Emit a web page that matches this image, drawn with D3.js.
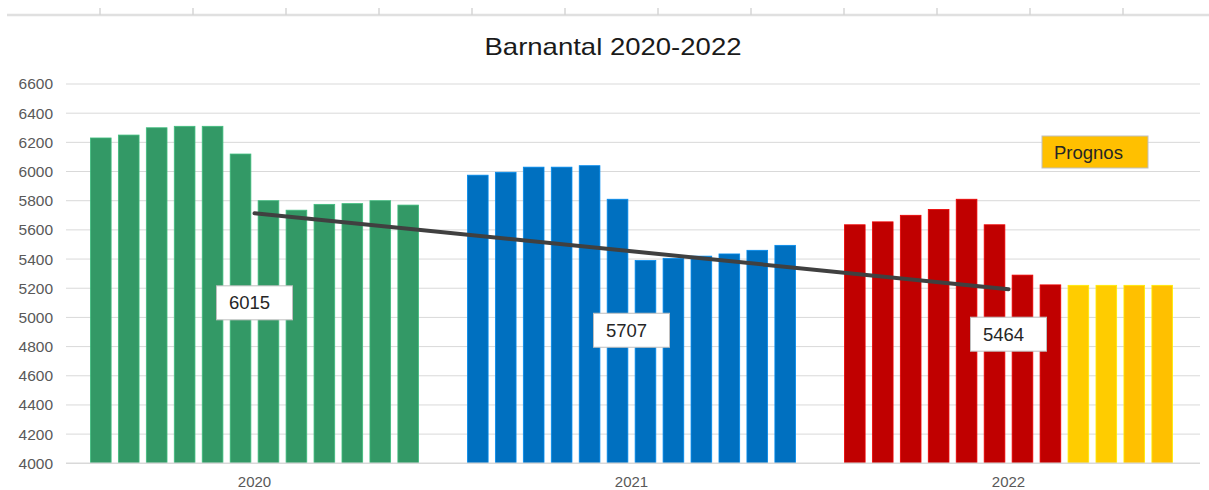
<!DOCTYPE html>
<html>
<head>
<meta charset="utf-8">
<script src="https://cdn.jsdelivr.net/npm/d3@7"></script>
<style>
  html, body { margin: 0; padding: 0; background: #fff; }
  svg { display: block; font-family: "Liberation Sans", Arial, sans-serif; }
</style>
</head>
<body>
<svg id="chart" width="1209" height="490"></svg>
<script>
// Monthly number of children per year (Jan–Dec)
const years = ["2020", "2021", "2022"];
const months = ["jan", "feb", "mar", "apr", "maj", "jun", "jul", "aug", "sep", "okt", "nov", "dec"];
const values2020 = [6230, 6250, 6300, 6310, 6310, 6120, 5800, 5735, 5775, 5780, 5800, 5770];
const values2021 = [5975, 5995, 6030, 6030, 6040, 5810, 5390, 5405, 5420, 5435, 5460, 5494];
const values2022 = [5635, 5655, 5700, 5740, 5810, 5635, 5290, 5223, 5220, 5220, 5220, 5220];
// Months of 2022 that are forecasts (Prognos)
const forecast2022 = [false, false, false, false, false, false, false, false, true, true, true, true];
// Trend line: value at the middle of the first and last year
const trendYears = ["2020", "2022"];
const trendValues = [5714, 5193];
const yTicks = [4000, 4200, 4400, 4600, 4800, 5000, 5200, 5400, 5600, 5800, 6000, 6200, 6400, 6600];

const series = [values2020, values2021, values2022];
const yearColors = ["#339966", "#0070C0", "#C00000"];
const forecastColors = ["#FFCC00", "#FFCC00", "#FFC000", "#FFC000"];

const svg = d3.select("#chart");

// Faint axis strip along the top edge
const topScale = d3.scaleLinear().domain([0, 13]).range([7, 1216]);
const topG = svg.append("g");
topG.append("line")
  .attr("x1", 7).attr("x2", 1209).attr("y1", 15).attr("y2", 15)
  .attr("stroke", "#e0e0e0").attr("stroke-width", 2.5);
topG.selectAll("line.tk").data(d3.range(1, 13)).join("line")
  .attr("class", "tk")
  .attr("x1", d => topScale(d)).attr("x2", d => topScale(d))
  .attr("y1", 8).attr("y2", 15)
  .attr("stroke", "#d6d6d6").attr("stroke-width", 1.5);

// Scales
const plotLeft = 66, plotRight = 1200;
const y = d3.scaleLinear().domain([4000, 6600]).range([463.3, 84]);
const xYear = d3.scaleBand().domain(years).range([66, 1197]).padding(0);
const xMonth = d3.scaleBand().domain(months).range([0, xYear.bandwidth()])
  .paddingInner(0.26).paddingOuter(0.874);

// Gridlines
svg.append("g").selectAll("line").data(yTicks.slice(1)).join("line")
  .attr("x1", plotLeft).attr("x2", plotRight)
  .attr("y1", d => y(d)).attr("y2", d => y(d))
  .attr("stroke", "#d9d9d9").attr("stroke-width", 1);

// Y axis labels
const yAxis = d3.axisLeft(y).tickValues(yTicks).tickSize(0).tickPadding(0).tickFormat(d3.format("d"));
const yG = svg.append("g").attr("transform", "translate(53,0)").call(yAxis);
yG.select(".domain").remove();
yG.selectAll("text")
  .attr("fill", "#595959").attr("font-size", 15.5)
  .attr("font-family", "'Liberation Sans', Arial, sans-serif");

// Bars
years.forEach((yr, i) => {
  const g = svg.append("g").attr("transform", `translate(${xYear(yr)},0)`);
  g.selectAll("rect").data(series[i].map((v, m) => ({ v, m }))).join("rect")
    .attr("x", d => xMonth(months[d.m]))
    .attr("width", xMonth.bandwidth())
    .attr("y", d => y(d.v))
    .attr("height", d => y(4000) - y(d.v))
    .attr("fill", d => {
      if (yr === "2022" && forecast2022[d.m]) {
        return forecastColors[d.m - forecast2022.indexOf(true)];
      }
      return yearColors[i];
    })
    .attr("stroke", d => {
      const c = d3.color((yr === "2022" && forecast2022[d.m]) ? "#FFC000" : yearColors[i]);
      return c.brighter(0.6).formatHex();
    })
    .attr("stroke-width", 0.8);
});

// X axis baseline
svg.append("line")
  .attr("x1", plotLeft).attr("x2", plotRight)
  .attr("y1", y(4000)).attr("y2", y(4000))
  .attr("stroke", "#d9d9d9").attr("stroke-width", 1.5);

// X axis labels (years)
const xAxis = d3.axisBottom(xYear).tickSize(0).tickPadding(0);
const xG = svg.append("g").attr("transform", `translate(0,${y(4000) + 13})`).call(xAxis);
xG.select(".domain").remove();
xG.selectAll("text")
  .attr("fill", "#595959").attr("font-size", 15)
  .attr("font-family", "'Liberation Sans', Arial, sans-serif");

// Trend line across the years
const yearCenter = yr => xYear(yr) + xYear.bandwidth() / 2;
const trendLine = d3.line().x(d => yearCenter(d[0])).y(d => y(d[1]));
svg.append("path")
  .datum(trendYears.map((yr, i) => [yr, trendValues[i]]))
  .attr("d", trendLine)
  .attr("fill", "none").attr("stroke", "#404040")
  .attr("stroke-width", 4).attr("stroke-linecap", "round");

// Yearly averages in boxes
const boxAnchor = { "2020": 5100, "2021": 4912, "2022": 4885 };
const boxW = 76, boxH = 34;
years.forEach((yr, i) => {
  const avg = Math.round(d3.mean(series[i]));
  const cx = yearCenter(yr), cy = y(boxAnchor[yr]);
  const g = svg.append("g");
  g.append("rect")
    .attr("x", cx - boxW / 2).attr("y", cy - boxH / 2)
    .attr("width", boxW).attr("height", boxH)
    .attr("fill", "#fff").attr("stroke", "#bfbfbf").attr("stroke-width", 1);
  g.append("text")
    .attr("x", cx - 5).attr("y", cy + 6.5)
    .attr("text-anchor", "middle")
    .attr("font-size", 18.5).attr("fill", "#262626")
    .text(d3.format("d")(avg));
});

// Forecast legend box
const legX = 1042, legY = 136;
svg.append("rect")
  .attr("x", legX).attr("y", legY).attr("width", 106).attr("height", 32)
  .attr("fill", "#FFC000").attr("stroke", "#bfbfbf").attr("stroke-width", 1);
svg.append("text")
  .attr("x", legX + 12).attr("y", legY + 23)
  .attr("font-size", 18.5).attr("fill", "#262626")
  .text("Prognos");

// Title
svg.append("text")
  .attr("x", 613).attr("y", 55)
  .attr("text-anchor", "middle")
  .attr("font-size", 24).attr("fill", "#1a1a1a")
  .attr("textLength", 257).attr("lengthAdjust", "spacingAndGlyphs")
  .text("Barnantal 2020-2022");
</script>
</body>
</html>
